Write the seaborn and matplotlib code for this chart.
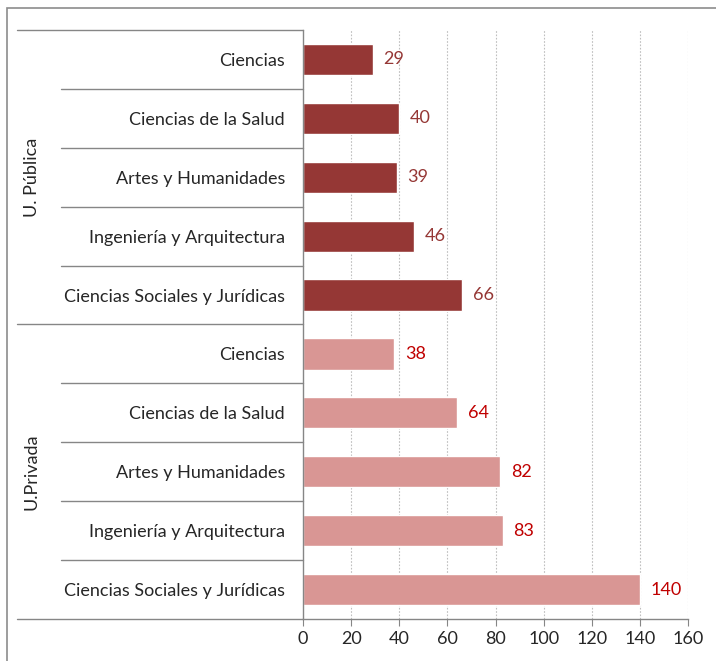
import seaborn as sns
import matplotlib.pyplot as plt
import pandas as pd
from matplotlib.patches import Rectangle
import matplotlib.transforms as mtransforms

# datos
grupos = ["U. Pública"] * 5 + ["U.Privada"] * 5
ramas = ["Ciencias", "Ciencias de la Salud", "Artes y Humanidades",
         "Ingeniería y Arquitectura", "Ciencias Sociales y Jurídicas"] * 2
valores = [29, 40, 39, 46, 66, 38, 64, 82, 83, 140]
xticks = [0, 20, 40, 60, 80, 100, 120, 140, 160]

colores = {"U. Pública": "#953735", "U.Privada": "#D99694"}
colores_texto = {"U. Pública": "#953735", "U.Privada": "#C00000"}

df = pd.DataFrame({"grupo": grupos, "rama": ramas, "valor": valores})
df["clave"] = [f"{g}|{r}" for g, r in zip(grupos, ramas)]

sns.set_style("white")
plt.rcParams["font.family"] = ["Lato", "DejaVu Sans"]
fs = 13

fig = plt.figure(figsize=(7.16, 6.61), dpi=100)
ax = fig.add_axes([303 / 716, 1 - 619 / 661, 385 / 716, 589 / 661])

sns.barplot(data=df, x="valor", y="clave", hue="grupo", palette=colores,
            dodge=False, width=0.53, legend=False, ax=ax, saturation=1)

ax.set_xlim(0, 160)
ax.set_ylim(9.5, -0.5)
ax.set_xticks(xticks)
ax.set_xticklabels([str(t) for t in xticks], fontsize=fs)
ax.set_yticks(range(len(ramas)))
ax.set_yticklabels(ramas, fontsize=fs)
ax.set_xlabel("")
ax.set_ylabel("")
ax.tick_params(axis="y", length=0, pad=13)
ax.tick_params(axis="x", length=5, color="#868686", direction="out", pad=4,
               bottom=True)

for t in xticks[1:]:
    ax.axvline(t, color="#BFBFBF", linestyle=(0, (1.5, 1.5)), linewidth=0.8, zorder=0)

for s in ["top", "right"]:
    ax.spines[s].set_visible(False)
for s in ["left", "bottom"]:
    ax.spines[s].set_color("#868686")
    ax.spines[s].set_linewidth(1)

# etiquetas de valor
for i, (g, v) in enumerate(zip(grupos, valores)):
    ax.text(v + 4.5, i, str(v), va="center", ha="left", fontsize=fs,
            color=colores_texto[g])

# separadores del eje de categorías
trans = mtransforms.blended_transform_factory(ax.transAxes, ax.transData)
for b in [-0.5, 4.5, 9.5]:
    ax.plot([-0.743, 0], [b, b], transform=trans, color="#868686", lw=1,
            clip_on=False)
for b in [0.5, 1.5, 2.5, 3.5, 5.5, 6.5, 7.5, 8.5]:
    ax.plot([-0.6286, 0], [b, b], transform=trans, color="#868686", lw=1,
            clip_on=False)

for g, centro in [("U. Pública", 2), ("U.Privada", 7)]:
    ax.text(-0.7045, centro, g, transform=trans, rotation=90, va="center",
            ha="center", fontsize=fs)

# marco del gráfico
fig.patches.append(Rectangle((7 / 716, -0.1), 1.2, 1 - 8 / 661 + 0.1,
                             transform=fig.transFigure, fill=False,
                             edgecolor="#8C8C8C", linewidth=1.2))

fig.savefig("out.png", dpi=100)
